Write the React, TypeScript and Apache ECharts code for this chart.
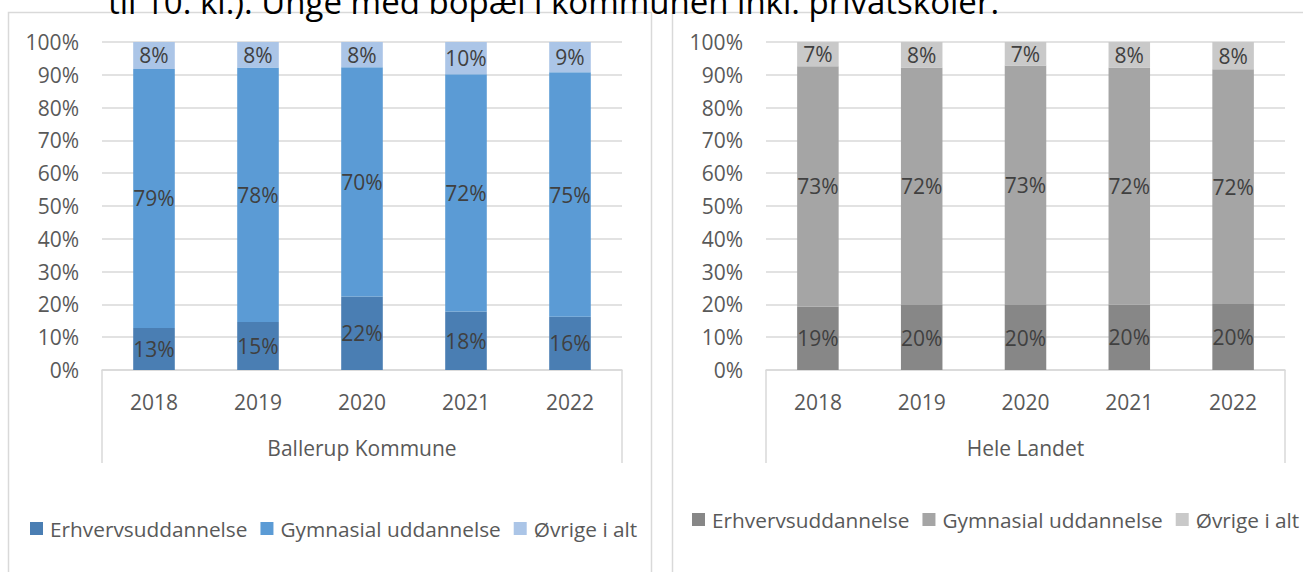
import React, { useEffect, useRef } from "react";
import * as echarts from "echarts";

const years = ["2018", "2019", "2020", "2021", "2022"];
const seriesNames = ["Erhvervsuddannelse", "Gymnasial uddannelse", "Øvrige i alt"];
const yTicks = [0, 10, 20, 30, 40, 50, 60, 70, 80, 90, 100];

const ballerupErhverv = [12.8, 14.6, 22.4, 17.8, 16.2];
const ballerupGymnasial = [79.0, 77.6, 69.9, 72.4, 74.6];
const ballerupOvrige = [8.2, 7.8, 7.7, 9.8, 9.2];

const landetErhverv = [19.3, 19.8, 19.8, 19.9, 20.1];
const landetGymnasial = [73.3, 72.4, 73.0, 72.3, 71.6];
const landetOvrige = [7.4, 7.8, 7.2, 7.8, 8.3];

const blueColors = ["#4a7eb3", "#5b9bd5", "#abc5e7"];
const grayColors = ["#878787", "#a5a5a5", "#c9c9c9"];

const FONT = "Open Sans";
const GRID_LINE = "#d9d9d9";
const FS = 21;

export default function App() {
  const ref = useRef<HTMLDivElement>(null);

  useEffect(() => {
    if (!ref.current) return;
    const chart = echarts.init(ref.current, undefined, { renderer: "svg" });

    const mkX = (gridIndex: number, name: string) => ({
      type: "category",
      gridIndex,
      data: years,
      name,
      nameLocation: "middle",
      nameGap: 67,
      nameTextStyle: { fontFamily: FONT, fontSize: FS, color: "#595959" },
      axisLine: { show: true, lineStyle: { color: GRID_LINE, width: 1.5 } },
      axisTick: { show: false },
      axisLabel: { fontFamily: FONT, fontSize: FS, color: "#595959", margin: 21 },
    });
    const mkY = (gridIndex: number) => ({
      type: "value",
      gridIndex,
      min: yTicks[0],
      max: yTicks[yTicks.length - 1],
      interval: yTicks[1] - yTicks[0],
      axisLine: { show: false },
      axisTick: { show: false },
      splitLine: { lineStyle: { color: GRID_LINE, width: 1.5 } },
      axisLabel: {
        fontFamily: FONT,
        fontSize: FS,
        color: "#595959",
        margin: 23,
        formatter: "{value}%",
      },
    });

    const label = {
      show: true,
      position: "inside",
      fontFamily: FONT,
      fontSize: FS,
      color: "#404040",
      formatter: (p: any) => Math.round(p.value) + "%",
    };

    const mkSeries = (
      data: number[][],
      colors: string[],
      idx: number,
      stack: string
    ) =>
      data.map((d, i) => ({
        type: "bar",
        name: seriesNames[i],
        xAxisIndex: idx,
        yAxisIndex: idx,
        stack,
        barWidth: "40%",
        data: d,
        itemStyle: { color: colors[i] },
        label,
      }));

    const legendCommon = {
      orient: "horizontal",
      itemWidth: 13,
      itemHeight: 13,
      itemGap: 13,
      icon: "rect",
      padding: 0,
      width: 640,
      textStyle: {
        fontFamily: FONT,
        fontSize: 20.8,
        color: "#595959",
        padding: [0, 0, 0, 2],
      },
      selectedMode: false,
    };

    const vline = (x: number) => ({
      type: "line",
      shape: { x1: x, y1: 370, x2: x, y2: 463 },
      style: { stroke: GRID_LINE, lineWidth: 1.5 },
      silent: true,
    });

    chart.setOption({
      animation: false,
      backgroundColor: "#ffffff",
      grid: [
        { left: 102, top: 42, width: 520, height: 328 },
        { left: 766, top: 42, width: 519, height: 328 },
      ],
      xAxis: [mkX(0, "Ballerup Kommune"), mkX(1, "Hele Landet")],
      yAxis: [mkY(0), mkY(1)],
      legend: [
        {
          ...legendCommon,
          left: 30,
          top: 518,
          data: seriesNames.map((n, i) => ({ name: n, itemStyle: { color: blueColors[i] } })),
        },
        {
          ...legendCommon,
          left: 692,
          top: 509,
          data: seriesNames.map((n, i) => ({ name: n, itemStyle: { color: grayColors[i] } })),
        },
      ],
      series: [
        ...mkSeries([ballerupErhverv, ballerupGymnasial, ballerupOvrige], blueColors, 0, "ballerup"),
        ...mkSeries([landetErhverv, landetGymnasial, landetOvrige], grayColors, 1, "landet"),
      ],
      graphic: [
        {
          type: "rect",
          shape: { x: 8.5, y: 12.5, width: 643, height: 600 },
          style: { fill: "none", stroke: GRID_LINE, lineWidth: 1.5 },
          silent: true,
          z: -1,
        },
        {
          type: "rect",
          shape: { x: 672.5, y: 12.5, width: 700, height: 600 },
          style: { fill: "none", stroke: GRID_LINE, lineWidth: 1.5 },
          silent: true,
          z: -1,
        },
        vline(102),
        vline(622),
        vline(766),
        vline(1285),
        {
          type: "text",
          x: 108,
          y: 1,
          style: {
            text: "til 10. kl.). Unge med bopæl i kommunen inkl. privatskoler.",
            font: "33px 'Open Sans'",
            fill: "#000000",
            verticalAlign: "middle",
          },
          silent: true,
        },
      ],
    });

    return () => chart.dispose();
  }, []);

  return (
    <div
      ref={ref}
      style={{ position: "absolute", left: 0, top: 0, width: 1303, height: 572 }}
    />
  );
}
